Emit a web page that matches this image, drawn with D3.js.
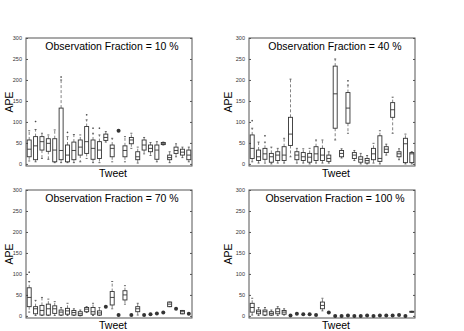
<!DOCTYPE html>
<html lang="en">
<head>
<meta charset="UTF-8">
<title>APE per tweet</title>
<style>
    body, html { margin: 0; padding: 0; background: #fff; }
    svg { display: block; font-family: "Liberation Sans", Arial, sans-serif; }
</style>
</head>
<body>
<svg id="svg" width="464" height="331"></svg>
<script src="https://d3js.org/d3.v7.min.js"></script>
<script>
    // each tweet: [whisker low, q1, median, q3, whisker high]
    const frac10 = [
        [7, 17, 35, 57, 79], [5, 10, 43, 65, 82], [13, 33, 53, 65, 73], [11, 30, 49, 60, 69],
        [3, 5, 33, 60, 81], [3, 10, 32, 133, 200], [3, 5, 21, 45, 65], [3, 10, 32, 52, 70],
        [5, 21, 40, 57, 69], [13, 25, 53, 89, 105], [3, 11, 37, 57, 73], [3, 13, 33, 53, 69],
        [52, 56, 63, 71, 77], [5, 17, 37, 45, 61], [79, 79, 79, 79, 79], [5, 17, 32, 43, 65],
        [37, 48, 57, 63, 73], [2, 10, 17, 29, 40], [24, 33, 45, 57, 63], [20, 29, 37, 45, 51],
        [5, 11, 33, 45, 53], [45, 46, 48, 51, 52], [3, 10, 15, 21, 29], [17, 25, 32, 40, 48],
        [15, 21, 28, 35, 40], [5, 10, 21, 33, 40]
    ];
    const frac40 = [
        [5, 13, 37, 69, 85], [2, 8, 17, 33, 52], [2, 11, 24, 37, 52], [0, 4, 17, 25, 40],
        [2, 8, 21, 29, 37], [2, 8, 21, 41, 61], [17, 44, 71, 111, 202], [2, 10, 21, 29, 37],
        [2, 8, 17, 27, 36], [0, 4, 16, 25, 37], [2, 8, 24, 41, 57], [2, 8, 21, 37, 57],
        [2, 6, 13, 21, 29], [57, 85, 167, 233, 250], [14, 17, 25, 32, 36], [73, 97, 133, 170, 188],
        [8, 13, 21, 27, 32], [0, 4, 11, 17, 25], [0, 2, 8, 13, 20], [2, 10, 24, 37, 49],
        [0, 6, 13, 67, 79], [21, 27, 35, 41, 47], [73, 111, 129, 146, 159], [10, 17, 24, 29, 36],
        [0, 3, 48, 61, 71], [0, 3, 24, 27, 29]
    ];
    const frac70 = [
        [9, 22, 44, 67, 82], [1, 5, 17, 22, 37], [1, 2, 13, 25, 44], [1, 2, 17, 28, 40],
        [1, 6, 17, 24, 34], [1, 2, 9, 14, 20], [1, 4, 12, 18, 30], [1, 2, 8, 13, 17],
        [0, 1, 5, 10, 14], [8, 10, 16, 20, 22], [1, 4, 10, 20, 30], [1, 2, 7, 12, 20],
        [22, 22, 22, 22, 22], [17, 26, 44, 58, 82], [2, 2, 2, 2, 2], [28, 38, 50, 60, 72],
        [2, 2, 2, 2, 2], [2, 10, 17, 22, 30], [2, 2, 2, 2, 2], [4, 4, 4, 4, 4],
        [6, 6, 6, 6, 6], [8, 8, 8, 8, 8], [22, 22, 28, 33, 33], [17, 17, 17, 17, 17],
        [5, 5, 10, 13, 13], [5, 5, 5, 5, 5]
    ];
    const frac100 = [
        [2, 9, 20, 30, 42], [1, 5, 10, 14, 20], [1, 2, 10, 14, 20], [1, 2, 6, 10, 14],
        [1, 5, 10, 17, 22], [2, 4, 9, 13, 17], [1, 1, 1, 1, 1], [5, 5, 5, 5, 5],
        [4, 4, 4, 4, 4], [4, 4, 4, 4, 4], [2, 2, 2, 2, 2], [12, 17, 25, 33, 42],
        [8, 8, 8, 8, 8], [0, 0, 0, 0, 0], [0, 0, 0, 0, 0], [1, 1, 1, 1, 1],
        [0, 0, 0, 0, 0], [0, 0, 0, 0, 0], [1, 1, 1, 1, 1], [0, 0, 0, 0, 0],
        [1, 1, 1, 1, 1], [1, 1, 1, 1, 1], [1, 1, 1, 1, 1], [2, 2, 2, 2, 2],
        [0, 0, 0, 0, 0], [9, 9, 10, 11, 11]
    ];
    // outliers: [tweet, value]
    const out10 = [[2, 101], [6, 207], [7, 75], [10, 117], [11, 85], [12, 85]];
    const out40 = [[1, 103], [3, 67], [14, 271], [16, 198]];
    const out70 = [[1, 104]];
    const out100 = [];

    const fractions = [10, 40, 70, 100];
    const yTicks = [0, 50, 100, 150, 200, 250, 300];

    const panels = [
        { data: frac10, out: out10, left: 26, top: 38, lab: 13 },
        { data: frac40, out: out40, left: 249, top: 38, lab: 17 },
        { data: frac70, out: out70, left: 26, top: 190, lab: 13 },
        { data: frac100, out: out100, left: 249, top: 190, lab: 17 }
    ];
    const pw = 166, ph = 128;

    const svg = d3.select('#svg');

    panels.forEach((p, k) => {
        const x = d3.scaleLinear().domain([0.5, p.data.length + 0.5]).range([p.left, p.left + pw]);
        const y = d3.scaleLinear().domain([-5, 300]).range([p.top + ph, p.top]);
        const g = svg.append('g');

        // axis frame
        g.append('rect')
            .attr('x', p.left).attr('y', p.top)
            .attr('width', pw).attr('height', ph)
            .attr('fill', 'none').attr('stroke', '#555').attr('stroke-width', 1);

        // left ticks with labels, inward
        const leftAxis = d3.axisLeft(y).tickValues(yTicks).tickSize(-2).tickPadding(4);
        g.append('g')
            .attr('transform', `translate(${p.left}, 0)`)
            .call(leftAxis)
            .call(a => a.select('.domain').remove())
            .call(a => a.selectAll('line').attr('stroke', '#555'))
            .call(a => a.selectAll('text').attr('font-size', 5.5).attr('fill', '#333'));

        // right ticks, no labels
        const rightAxis = d3.axisRight(y).tickValues(yTicks).tickSize(-2).tickFormat('');
        g.append('g')
            .attr('transform', `translate(${p.left + pw}, 0)`)
            .call(rightAxis)
            .call(a => a.select('.domain').remove())
            .call(a => a.selectAll('line').attr('stroke', '#555'));

        const bw = 4;
        const boxes = g.selectAll('.bx').data(p.data).join('g').attr('class', 'bx');

        boxes.each(function (d, i) {
            const b = d3.select(this);
            const cx = x(i + 1);
            if (d[3] - d[1] < 1.5 && d[4] - d[0] < 1.5) {
                b.append('circle')
                    .attr('cx', cx).attr('cy', y(d[2]))
                    .attr('r', 2).attr('fill', '#333');
                return;
            }
            // whiskers
            b.append('line')
                .attr('x1', cx).attr('x2', cx)
                .attr('y1', y(d[3])).attr('y2', y(d[4]))
                .attr('stroke', '#666').attr('stroke-width', 0.8)
                .attr('stroke-dasharray', '3,2');
            b.append('line')
                .attr('x1', cx).attr('x2', cx)
                .attr('y1', y(d[1])).attr('y2', y(d[0]))
                .attr('stroke', '#666').attr('stroke-width', 0.8)
                .attr('stroke-dasharray', '3,2');
            [d[0], d[4]].forEach(v => {
                b.append('line')
                    .attr('x1', cx - 1).attr('x2', cx + 1)
                    .attr('y1', y(v)).attr('y2', y(v))
                    .attr('stroke', '#444').attr('stroke-width', 0.8);
            });
            // box
            b.append('rect')
                .attr('x', cx - bw / 2).attr('y', y(d[3]))
                .attr('width', bw).attr('height', Math.max(1, y(d[1]) - y(d[3])))
                .attr('fill', 'none').attr('stroke', '#333').attr('stroke-width', 0.9);
            // median
            b.append('line')
                .attr('x1', cx - bw / 2).attr('x2', cx + bw / 2)
                .attr('y1', y(d[2])).attr('y2', y(d[2]))
                .attr('stroke', '#333').attr('stroke-width', 0.9);
        });

        // outliers as small plus marks
        p.out.forEach(o => {
            const cx = x(o[0]), cy = y(o[1]);
            g.append('path')
                .attr('d', `M${cx - 0.8},${cy}H${cx + 0.8}M${cx},${cy - 0.8}V${cy + 0.8}`)
                .attr('stroke', '#444').attr('stroke-width', 0.8);
        });

        // title inside the plot
        g.append('text')
            .attr('x', p.left + pw / 2 + 3)
            .attr('y', p.top + 11.5)
            .attr('text-anchor', 'middle')
            .attr('font-size', 10.5)
            .attr('fill', '#000')
            .text(`Observation Fraction = ${fractions[k]} %`);

        // axis labels
        g.append('text')
            .attr('x', p.left + pw / 2 + 4)
            .attr('y', p.top + ph + 11)
            .attr('text-anchor', 'middle')
            .attr('font-size', 10.5)
            .attr('fill', '#000')
            .text('Tweet');

        g.append('text')
            .attr('transform', `translate(${p.left - p.lab}, ${p.top + ph / 2}) rotate(-90)`)
            .attr('text-anchor', 'middle')
            .attr('font-size', 10.5)
            .attr('fill', '#000')
            .text('APE');
    });
</script>
</body>
</html>
